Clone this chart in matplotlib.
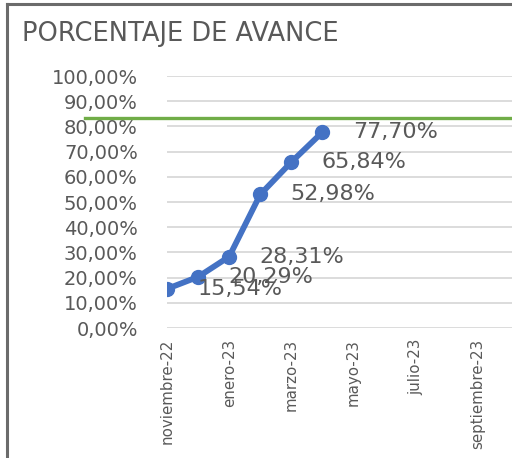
import matplotlib.pyplot as plt
from matplotlib.lines import Line2D

meses = ['noviembre-22', 'diciembre-22', 'enero-23', 'febrero-23', 'marzo-23', 'abril-23',
         'mayo-23', 'junio-23', 'julio-23', 'agosto-23', 'septiembre-23', 'octubre-23']
avance = [15.54, 20.29, 28.31, 52.98, 65.84, 77.70]
meta = 83.33
yticks = [0, 10, 20, 30, 40, 50, 60, 70, 80, 90, 100]

gris = '#595959'
azul = '#4472C4'
verde = '#70AD47'

fig = plt.figure(figsize=(5.12, 4.58), dpi=100)
ax = fig.add_axes([167 / 512, 1 - 328 / 458, 345 / 512, 252 / 458])

x = list(range(len(avance)))
ax.plot(x, avance, color=azul, lw=4.2, marker='o', ms=10, solid_capstyle='round', zorder=3)

for xi, v in zip(x, avance):
    ax.annotate(f'{v:.2f}%'.replace('.', ','), (xi, v), xytext=(22, 0),
                textcoords='offset points', ha='left', va='center',
                fontsize=16, color=gris, zorder=4)

ax.axhline(meta, xmin=-0.238, xmax=1, color=verde, lw=2.4, clip_on=False, zorder=2)

ax.set_xlim(0, 11.1)
ax.set_ylim(0, 100)
ax.set_yticks(yticks)
ax.set_yticklabels([f'{t},00%' for t in yticks], fontsize=14, color=gris)
ax.set_xticks(range(0, len(meses), 2))
ax.set_xticklabels(meses[::2], rotation=90, fontsize=10.8, color=gris)
ax.tick_params(length=0, pad=8)
ax.tick_params(axis='y', pad=21)
ax.grid(axis='y', color='#d9d9d9', lw=1.3)
ax.set_axisbelow(True)
for s in ax.spines.values():
    s.set_visible(False)

fig.text(22 / 512, 1 - 34 / 458, 'PORCENTAJE DE AVANCE', fontsize=18.5, color=gris,
         ha='left', va='center')

# borde del grafico
fig.add_artist(Line2D([7 / 512, 7 / 512], [0, 1 - 4 / 458], color='#6b6b6b', lw=2.2))
fig.add_artist(Line2D([7 / 512, 1], [1 - 4 / 458, 1 - 4 / 458], color='#6b6b6b', lw=2.2))

fig.savefig('out.png', dpi=100)
